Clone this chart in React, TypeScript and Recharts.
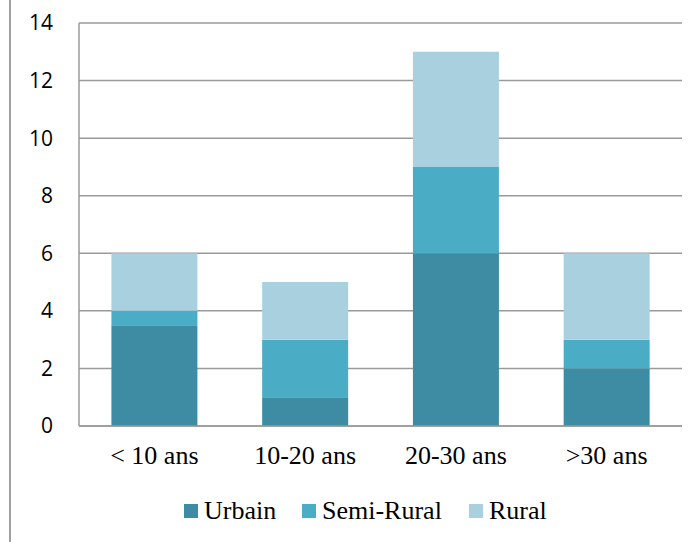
import { BarChart, Bar, XAxis, YAxis, CartesianGrid, Legend } from "recharts";

const categories = ["< 10 ans", "10-20 ans", "20-30 ans", ">30 ans"];
const urbain = [3.5, 1, 6, 2];
const semiRural = [0.5, 2, 3, 1];
const rural = [2, 2, 4, 3];
const yTicks = [0, 2, 4, 6, 8, 10, 12, 14];

const series = [
  { key: "urbain", name: "Urbain", color: "#3d8ca4" },
  { key: "semiRural", name: "Semi-Rural", color: "#4bacc6" },
  { key: "rural", name: "Rural", color: "#a9d0df" },
];

const data = categories.map((cat, i) => ({
  cat,
  urbain: urbain[i],
  semiRural: semiRural[i],
  rural: rural[i],
}));

const itemWidths = [118, 167, 80];

const LegendContent = () => (
  <div
    style={{
      display: "flex",
      alignItems: "center",
      height: 36,
      paddingLeft: 184,
      fontFamily: "'Liberation Serif', 'Times New Roman', serif",
      fontSize: 26,
      color: "#000",
    }}
  >
    {series.map((s, i) => (
      <div key={s.key} style={{ display: "flex", alignItems: "center", width: itemWidths[i] }}>
        <span style={{ width: 14, height: 14, background: s.color, marginRight: 6 }} />
        <span>{s.name}</span>
      </div>
    ))}
  </div>
);

export default function App() {
  return (
    <div style={{ position: "absolute", left: 0, top: 0, width: 699, height: 542, background: "#fff" }}>
      <div style={{ position: "absolute", left: 9, top: 0, width: 2, height: 542, background: "#a0a0a0" }} />
      <BarChart
        width={699}
        height={542}
        data={data}
        margin={{ top: 23, right: 17, left: 0, bottom: 13 }}
        barCategoryGap="21.5%"
      >
        <CartesianGrid vertical={false} stroke="#9a9a9a" strokeWidth={1.5} />
        <XAxis
          dataKey="cat"
          height={67}
          tickLine={false}
          tickMargin={14}
          axisLine={{ stroke: "#9a9a9a", strokeWidth: 1.5 }}
          tick={{ fontSize: 26, fill: "#000", fontFamily: "'Liberation Serif', 'Times New Roman', serif" }}
        />
        <YAxis
          width={79}
          domain={[0, 14]}
          ticks={yTicks}
          tickLine={false}
          tickMargin={20}
          axisLine={{ stroke: "#9a9a9a", strokeWidth: 1.5 }}
          tick={{ fontSize: 21, fill: "#000", fontFamily: "'Open Sans', sans-serif" }}
        />
        <Legend verticalAlign="bottom" height={36} content={<LegendContent />} />
        {series.map((s) => (
          <Bar
            key={s.key}
            dataKey={s.key}
            name={s.name}
            stackId="a"
            fill={s.color}
            isAnimationActive={false}
          />
        ))}
      </BarChart>
    </div>
  );
}
